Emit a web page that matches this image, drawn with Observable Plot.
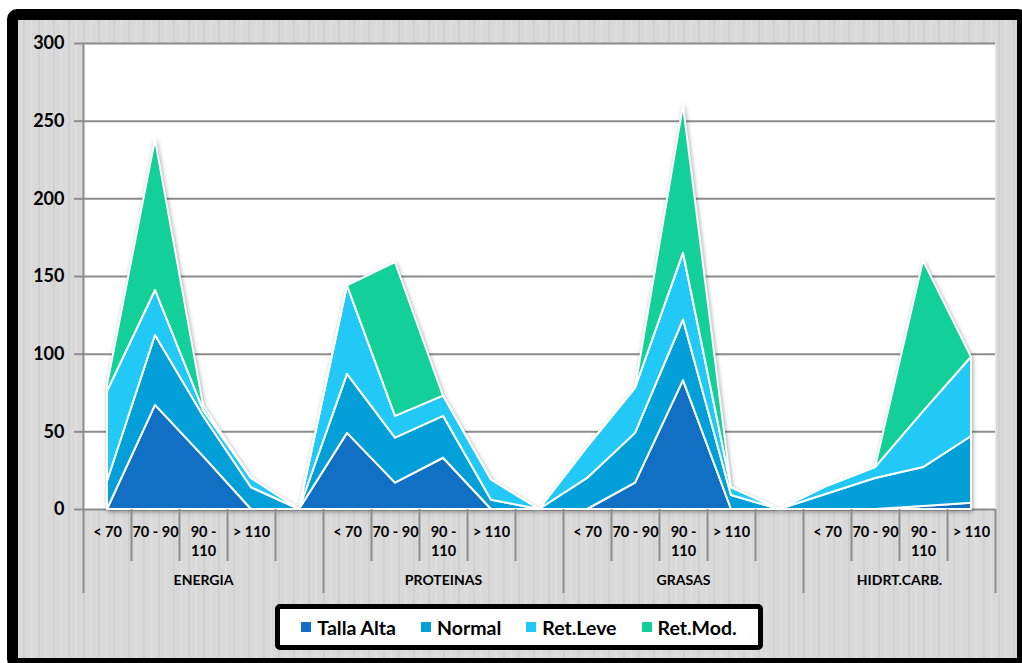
<!DOCTYPE html>
<html><head><meta charset="utf-8">
<script src="https://cdn.jsdelivr.net/npm/d3@7"></script>
<script src="https://cdn.jsdelivr.net/npm/@observablehq/plot@0.6"></script>
<style>
html,body{margin:0;padding:0;width:1022px;height:663px;overflow:hidden;background:#fff;font-family:Lato,"Open Sans",sans-serif;}
#frame{position:absolute;left:7px;top:9px;width:1021px;height:660px;box-sizing:border-box;border:11px solid #000;border-radius:10px;
  background:repeating-linear-gradient(90deg,#d9d9d9 0 5px,#d0d0d0 5px 7px,#d9d9d9 7px 12px,#dedede 12px 14px,#d9d9d9 14px 15px);}
#chart{position:absolute;left:0;top:0;}
#chart g[aria-label="area"]{filter:drop-shadow(1px 2px 2px rgba(0,0,0,0.35));}
#legend{position:absolute;left:275px;top:604px;width:488px;height:46px;box-sizing:border-box;border:5px solid #000;border-radius:5px;background:#fff;
  display:flex;align-items:center;justify-content:center;gap:25px;font:bold 19.5px Lato,sans-serif;color:#000;}
.item{display:flex;align-items:center;gap:6px;white-space:nowrap}
.sw{width:10px;height:10px;display:inline-block}
</style></head>
<body>
<div id="frame"></div>
<div id="chart"></div>
<div id="legend"></div>
<script>
// Categories (19 slots; empty slots separate the groups)
const groupNames = ["ENERGIA", "PROTEINAS", "GRASAS", "HIDRT.CARB."];
const groupSizes = [5, 5, 5, 4];
const slotLabels = [
  "< 70", "70 - 90", "90 -\n110", "> 110", "",
  "< 70", "70 - 90", "90 -\n110", "> 110", "",
  "< 70", "70 - 90", "90 -\n110", "> 110", "",
  "< 70", "70 - 90", "90 -\n110", "> 110"
];
const seriesNames = ["Talla Alta", "Normal", "Ret.Leve", "Ret.Mod."];
const colors = ["#1170c4", "#039fd8", "#22c8f6", "#13cf98"];

// Series values
const tallaAlta = [0, 67, 34, 0, 0,   49, 17, 33, 0, 0,   0, 17, 83, 0, 0,   0, 0, 2, 4];
const normal    = [18, 45, 26, 14, 0, 38, 29, 27, 6, 0,   20, 32, 39, 9, 0,  10, 20, 25, 43];
const retLeve   = [58, 29, 4, 6, 0,   57, 14, 13, 13, 0,  20, 29, 43, 5, 0,  5, 7, 36, 51];
const retMod    = [4, 97, 3, 0, 0,    0, 99, 0, 0, 0,     0, 0, 95, 0, 0,    0, 0, 97, 0];

const yTicks = [0, 50, 100, 150, 200, 250, 300];

const seriesValues = [tallaAlta, normal, retLeve, retMod];
const data = seriesNames.flatMap((s, k) => seriesValues[k].map((v, i) => ({i, v, s})));
const n = slotLabels.length;

// group boundaries and centers from sizes
const groupBounds = [-0.5];
const groupCenters = [];
const subBounds = [];
let start = 0;
for (const size of groupSizes) {
  groupCenters.push(start + (size - 1) / 2);
  for (let j = 1; j < size; j++) subBounds.push(start + j - 0.5);
  start += size;
  groupBounds.push(start - 0.5);
}

const grey = "#8c8c8c";
const plot = Plot.plot({
  width: 1022, height: 600,
  marginLeft: 83, marginRight: 27, marginTop: 43, marginBottom: 91,
  style: {background: "transparent", fontFamily: "Lato, sans-serif", overflow: "visible", color: "#000"},
  x: {domain: [-0.5, n - 0.5], axis: null, label: null},
  y: {domain: [0, 300], axis: null, label: null},
  color: {domain: seriesNames, range: colors},
  marks: [
    Plot.frame({fill: "white", stroke: null}),
    Plot.gridY(yTicks, {stroke: grey, strokeOpacity: 1, strokeWidth: 2}),
    Plot.ruleX([-0.5], {stroke: grey, strokeWidth: 2}),
    Plot.areaY(data, {x: "i", y: "v", z: "s", fill: "s", order: seriesNames, stroke: "white", strokeWidth: 2}),
    Plot.axisY(yTicks, {label: null, tickSize: 9, tickPadding: 10, stroke: grey, strokeWidth: 2, fill: "#000", fontSize: 18, fontWeight: "bold", tickFormat: d => String(d)}),
    Plot.axisX(subBounds, {label: null, tickSize: 52, tickFormat: () => "", stroke: grey, strokeWidth: 2}),
    Plot.axisX(groupBounds, {label: null, tickSize: 84, tickFormat: () => "", stroke: grey, strokeWidth: 2}),
    Plot.axisX(d3.range(n), {label: null, tickSize: 0, tickPadding: 14, tickFormat: i => slotLabels[i], fill: "#000", fontSize: 14.5, fontWeight: "bold", lineHeight: 1.3}),
    Plot.axisX(groupCenters, {label: null, tickSize: 0, tickPadding: 66, tickFormat: d => groupNames[groupCenters.indexOf(d)], fill: "#000", fontSize: 14, fontWeight: "bold"})
  ]
});
document.getElementById("chart").appendChild(plot);

const color = plot.scale("color");
const legend = document.getElementById("legend");
color.domain.forEach((name, k) => {
  const item = document.createElement("div");
  item.className = "item";
  const sw = document.createElement("span");
  sw.className = "sw";
  sw.style.background = color.range[k];
  const t = document.createElement("span");
  t.textContent = name;
  item.appendChild(sw); item.appendChild(t);
  legend.appendChild(item);
});
</script>
</body></html>
